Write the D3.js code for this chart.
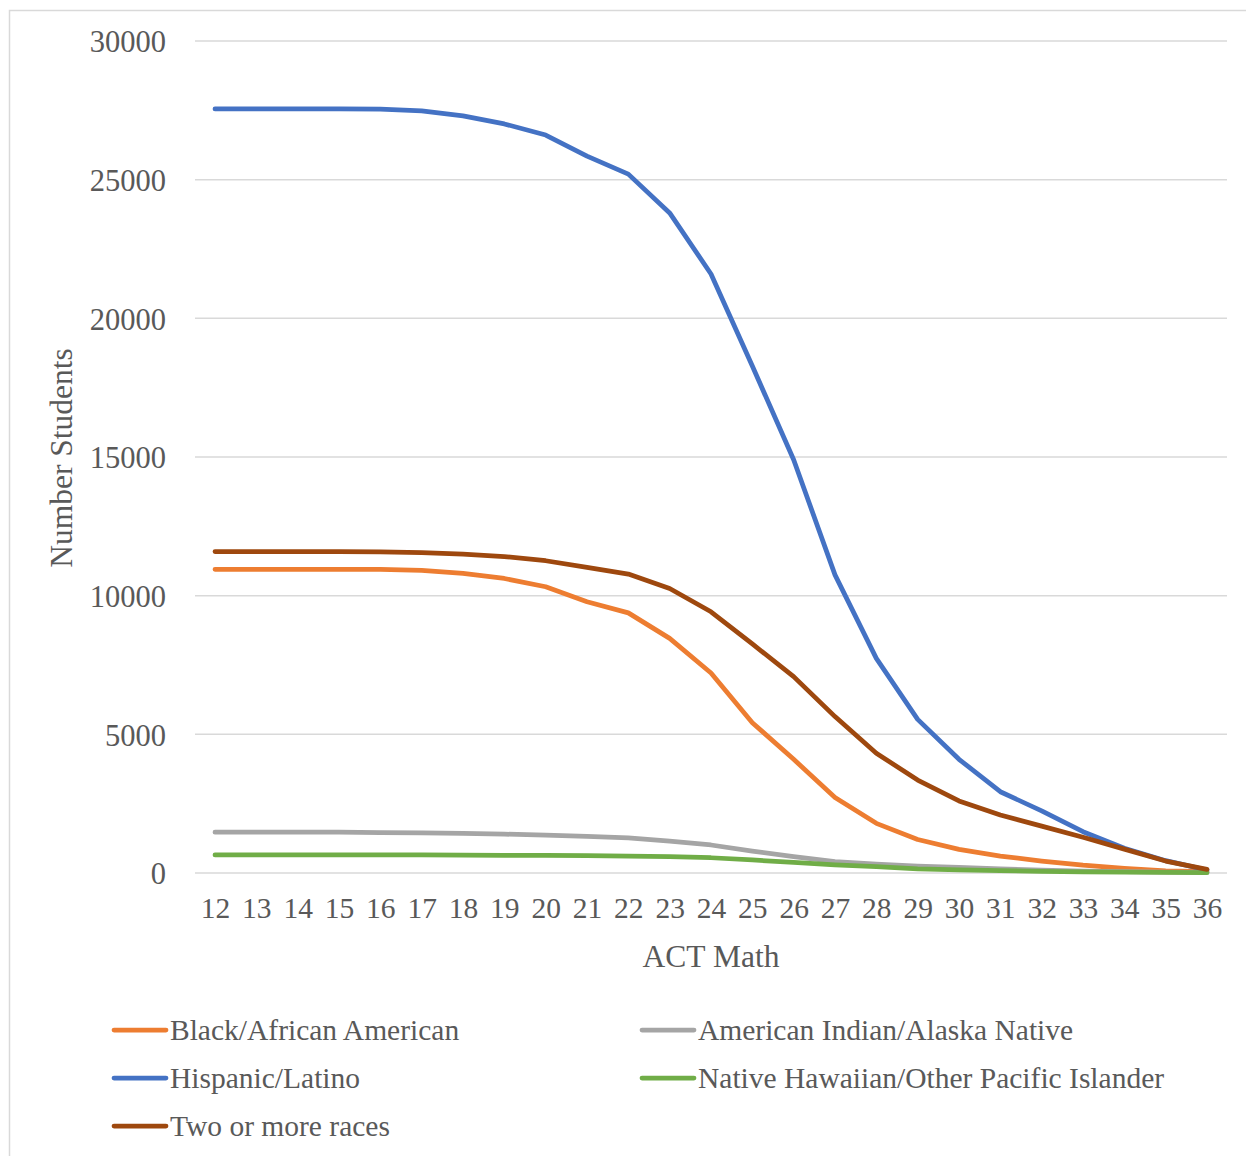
<!DOCTYPE html>
<html><head><meta charset="utf-8">
<script src="https://cdn.jsdelivr.net/npm/d3@7"></script>
<style>body{margin:0;background:#fff}svg{display:block}</style>
</head><body>
<script>
const scores = d3.range(12, 37);
const yTicks = [0, 5000, 10000, 15000, 20000, 25000, 30000];
const black = [10950,10950,10950,10950,10950,10910,10800,10620,10320,9780,9380,8460,7210,5420,4100,2720,1790,1210,850,610,430,280,170,80,50];
const amIndian = [1470,1470,1470,1470,1460,1450,1430,1400,1370,1320,1270,1150,1010,790,590,410,320,250,200,150,100,70,50,30,20];
const hispanic = [27550,27550,27550,27550,27540,27480,27300,27010,26610,25850,25200,23800,21600,18280,14900,10750,7740,5540,4100,2930,2240,1490,890,445,110];
const hawaiian = [650,650,650,650,650,650,645,640,635,625,610,590,550,470,380,290,230,150,110,90,60,40,30,20,10];
const twoOrMore = [11590,11590,11590,11590,11580,11550,11500,11410,11260,11020,10780,10260,9420,8260,7080,5640,4320,3350,2600,2090,1690,1290,860,430,130];

const seriesNames = ["Black/African American","American Indian/Alaska Native","Hispanic/Latino","Native Hawaiian/Other Pacific Islander","Two or more races"];
const seriesValues = [black, amIndian, hispanic, hawaiian, twoOrMore];
const seriesColors = ["#ED7D31","#A5A5A5","#4472C4","#70AD47","#9E480E"];

const W = 1246, H = 1156;
const svg = d3.select("body").append("svg").attr("width", W).attr("height", H);
const font = "'Liberation Serif','Times New Roman',serif";
const txt = "#595959";

svg.append("rect").attr("x", 9.5).attr("y", 10.5).attr("width", W + 10).attr("height", H + 10)
  .attr("fill", "#fff").attr("stroke", "#d9d9d9").attr("stroke-width", 1.5);

const x = d3.scalePoint().domain(scores).range([215, 1207]);
const y = d3.scaleLinear().domain([0, 30000]).range([873, 41]);

// gridlines
svg.append("g").selectAll("line").data(yTicks).join("line")
  .attr("x1", 195).attr("x2", 1227)
  .attr("y1", d => y(d)).attr("y2", d => y(d))
  .attr("stroke", "#d9d9d9").attr("stroke-width", 1.5);

// y axis labels
const yAxis = d3.axisLeft(y).tickValues(yTicks).tickSize(0).tickPadding(0).tickFormat(d3.format("d"));
const gy = svg.append("g").attr("transform", "translate(166,0)").call(yAxis);
gy.select(".domain").remove();
gy.selectAll("text").attr("font-family", font).attr("font-size", 30.5).attr("fill", txt).attr("dy", "0.35em");

// x axis labels
const xAxis = d3.axisBottom(x).tickSize(0).tickPadding(0);
const gx = svg.append("g").attr("transform", "translate(0,897)").call(xAxis);
gx.select(".domain").remove();
gx.selectAll("text").attr("font-family", font).attr("font-size", 29.5).attr("fill", txt).attr("dy", "0.71em");

// axis titles
svg.append("text").attr("x", 711).attr("y", 967).attr("text-anchor", "middle")
  .attr("font-family", font).attr("font-size", 31.5).attr("fill", txt).text("ACT Math");
svg.append("text").attr("transform", "translate(72,458) rotate(-90)").attr("text-anchor", "middle")
  .attr("font-family", font).attr("font-size", 31.5).attr("fill", txt).text("Number Students");

// lines
const line = d3.line().x((d, i) => x(scores[i])).y(d => y(d));
svg.append("g").selectAll("path").data(seriesValues).join("path")
  .attr("d", d => line(d)).attr("fill", "none")
  .attr("stroke", (d, i) => seriesColors[i]).attr("stroke-width", 4.75)
  .attr("stroke-linejoin", "round").attr("stroke-linecap", "round");

// legend
const legendPos = [[112,1030],[640,1030],[112,1078],[640,1078],[112,1126]];
const lg = svg.append("g").selectAll("g").data(seriesNames).join("g")
  .attr("transform", (d, i) => `translate(${legendPos[i][0]},${legendPos[i][1]})`);
lg.append("line").attr("x1", 2).attr("x2", 54).attr("y1", 0).attr("y2", 0)
  .attr("stroke", (d, i) => seriesColors[i]).attr("stroke-width", 4.75).attr("stroke-linecap", "round");
lg.append("text").attr("x", 58).attr("y", 0).attr("dy", "0.35em")
  .attr("font-family", font).attr("font-size", 29.5).attr("fill", txt).text(d => d);
</script>
</body></html>
